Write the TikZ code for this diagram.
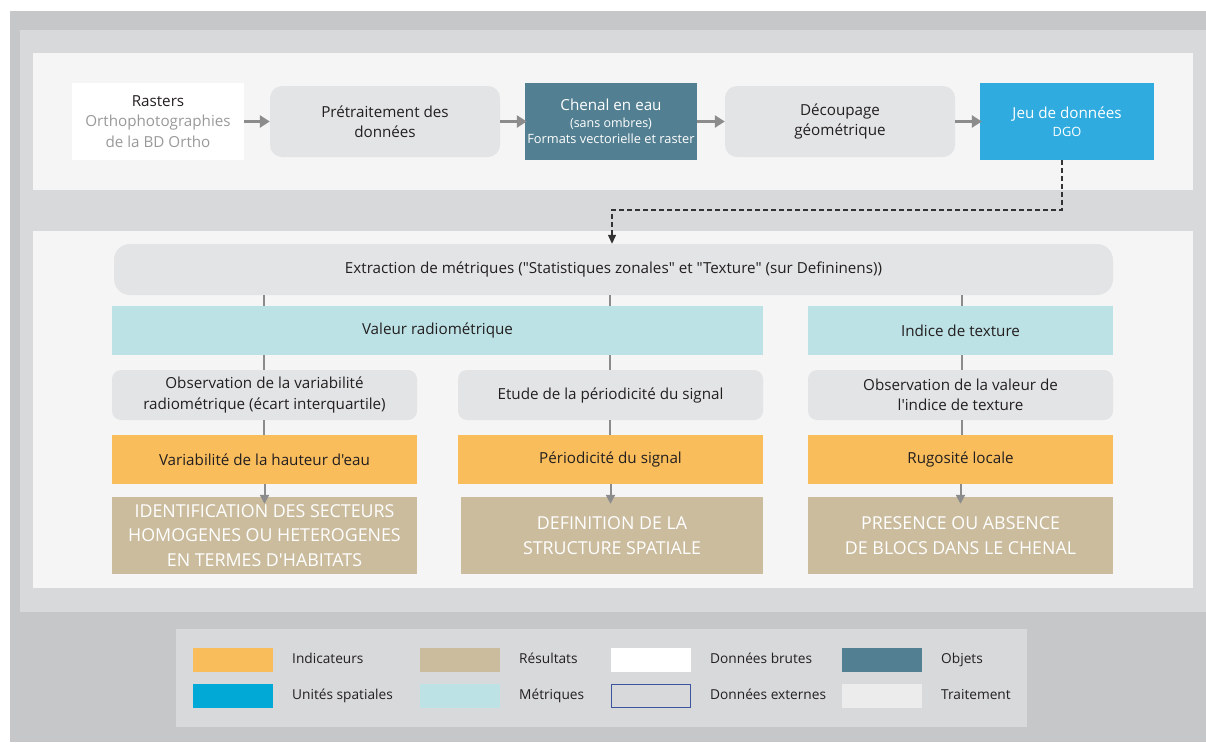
\documentclass[tikz,border=0pt]{standalone}
\usepackage{fontspec}
\setmainfont{Open Sans}[Ligatures=TeXOff]
\usetikzlibrary{arrows.meta}
\definecolor{outergray}{HTML}{C6C7C9}
\definecolor{midgray}{HTML}{D8D9DB}
\definecolor{panelc}{HTML}{F5F5F5}
\definecolor{procc}{HTML}{E3E4E5}
\definecolor{objc}{HTML}{527F91}
\definecolor{dgoc}{HTML}{2FABDF}
\definecolor{metc}{HTML}{BDE2E6}
\definecolor{orac}{HTML}{F9BD5C}
\definecolor{tanc}{HTML}{CBBC9E}
\definecolor{unitc}{HTML}{00A9D6}
\definecolor{extc}{HTML}{3D55A0}
\definecolor{traitc}{HTML}{ECECEC}
\definecolor{txtc}{HTML}{231F20}
\definecolor{txtgray}{HTML}{9A9A9A}
\definecolor{arrc}{HTML}{8C8C8C}
\tikzset{
  box/.style={draw=none, inner sep=2pt, align=center, text=txtc, font=\fontsize{15.2}{20.5}\selectfont},
  rawbox/.style={box, fill=white},
  procbox/.style={box, fill=procc, rounded corners=12pt},
  objbox/.style={box, fill=objc, text=white},
  dgobox/.style={box, fill=dgoc, text=white},
  metbox/.style={box, fill=metc},
  obsbox/.style={box, fill=procc, rounded corners=9pt},
  orabox/.style={box, fill=orac},
  tanbox/.style={box, fill=tanc, text=white, font=\fontsize{17.8}{24.5}\selectfont},
  bigarrow/.style={draw=arrc, line width=3.2pt, -{Triangle[length=10pt,width=12pt]}},
  smallarrow/.style={draw=arrc, line width=2pt, -{Triangle[length=9pt,width=9pt]}},
  tick/.style={draw=arrc, line width=1.6pt},
  dashlink/.style={draw=black!80, line width=1.3pt, dash pattern=on 5pt off 3pt, -{Triangle[length=9pt,width=8pt]}},
  swatch/.style={draw=none, minimum width=80pt, minimum height=24pt, inner sep=0pt},
  leglabel/.style={anchor=west, inner sep=0pt, text height=10pt, text depth=3pt, text=txtc, font=\fontsize{13.7}{16}\selectfont}
}
\begin{document}
\begin{tikzpicture}[x=1pt,y=-1pt]
\useasboundingbox (0,0) rectangle (1206,742);
\fill[white] (0,0) rectangle (1206,742);
\fill[outergray] (10,11) rectangle (1206,742);
\fill[midgray] (20,30) rectangle (1206,612);
\fill[panelc] (33,53) rectangle (1193,190);
\fill[panelc] (33,231) rectangle (1193,588);
\fill[midgray] (176,629) rectangle (1027,727);

% top row
\node[rawbox, minimum width=172pt, minimum height=77pt] (raster) at (158,121.5)
  {Rasters\\{\color{txtgray}Orthophotographies}\\{\color{txtgray}de la BD Ortho}};
\node[procbox, minimum width=230pt, minimum height=71pt] (pretr) at (385,121.5)
  {Prétraitement des\\données};
\node[objbox, minimum width=172pt, minimum height=77pt] (chenal) at (611,121.5)
  {Chenal en eau\\[-4pt]{\fontsize{12.5}{15}\selectfont (sans ombres)}\\[-4pt]{\fontsize{12.8}{16}\selectfont Formats vectorielle et raster}};
\node[procbox, minimum width=230pt, minimum height=71pt] (decoup) at (840,121.5)
  {Découpage\\géométrique};
\node[dgobox, minimum width=174pt, minimum height=77pt] (dgo) at (1067,121.5)
  {Jeu de données\\[-3pt]{\fontsize{12.8}{15}\selectfont DGO}};

\draw[bigarrow] (raster.east) -- (pretr.west);
\draw[bigarrow] (pretr.east) -- ([xshift=2pt]chenal.west);
\draw[bigarrow] (chenal.east) -- (decoup.west);
\draw[bigarrow] (decoup.east) -- ([xshift=2pt]dgo.west);

% extraction
\node[procbox, rounded corners=16pt, minimum width=999pt, minimum height=51pt] (extr) at (613.5,269.5)
  {Extraction de métriques ("Statistiques zonales" et "Texture" (sur Defininens))};
\coordinate (dA) at (1062,210);
\coordinate (dB) at (612,210);
\draw[dashlink] ([xshift=-5pt]dgo.south) -- (dA) -- (dB) -- (dB |- extr.north);

% metrics
\node[metbox, minimum width=651pt, minimum height=49pt] (valr) at (437.5,330.5) {Valeur radiométrique};
\node[metbox, minimum width=305pt, minimum height=49pt] (indt) at (960.5,330.5) {Indice de texture};

% observations
\node[obsbox, minimum width=305pt, minimum height=50pt] (obs1) at (264.5,395)
  {Observation de la variabilité\\radiométrique (écart interquartile)};
\node[obsbox, minimum width=305pt, minimum height=50pt] (obs2) at (610.5,395)
  {Etude de la périodicité du signal};
\node[obsbox, minimum width=305pt, minimum height=50pt] (obs3) at (960.5,395)
  {Observation de la valeur de\\l'indice de texture};

% indicators
\node[orabox, minimum width=305pt, minimum height=49pt] (ind1) at (264.5,459.5) {Variabilité de la hauteur d'eau};
\node[orabox, minimum width=305pt, minimum height=49pt] (ind2) at (610.5,459.5) {Périodicité du signal};
\node[orabox, minimum width=305pt, minimum height=49pt] (ind3) at (960.5,459.5) {Rugosité locale};

% results
\node[tanbox, minimum width=305pt, minimum height=77pt] (res1) at (264.5,535.5)
  {IDENTIFICATION DES SECTEURS\\HOMOGENES OU HETEROGENES\\EN TERMES D'HABITATS};
\node[tanbox, minimum width=302pt, minimum height=77pt] (res2) at (612,535.5)
  {DEFINITION DE LA\\STRUCTURE SPATIALE};
\node[tanbox, minimum width=305pt, minimum height=77pt] (res3) at (960.5,535.5)
  {PRESENCE OU ABSENCE\\DE BLOCS DANS LE CHENAL};

% ticks
\foreach \x/\a/\b in {264/extr/valr, 610/extr/valr, 962/extr/indt,
                      264/valr/obs1, 610/valr/obs2, 962/indt/obs3,
                      264/obs1/ind1, 610/obs2/ind2, 962/obs3/ind3}
  \draw[tick] (\x,0 |- \a.south) -- (\x,0 |- \b.north);
\foreach \i in {1,2,3}
  \draw[smallarrow] (ind\i.south) -- ([yshift=-7pt]res\i.north -| ind\i.south);

% legend
\node[swatch, fill=orac] (sw1) at (233,660) {};
\node[leglabel] (lb1) at (292,660) {Indicateurs};
\node[swatch, fill=tanc] (sw2) at (460,660) {};
\node[leglabel] (lb2) at (519,660) {Résultats};
\node[swatch, fill=white] (sw3) at (651,660) {};
\node[leglabel] (lb3) at (710,660) {Données brutes};
\node[swatch, fill=objc] (sw4) at (882,660) {};
\node[leglabel] (lb4) at (941,660) {Objets};
\node[swatch, fill=unitc] (sw5) at (233,696) {};
\node[leglabel] (lb5) at (292,696) {Unités spatiales};
\node[swatch, fill=metc] (sw6) at (460,696) {};
\node[leglabel] (lb6) at (519,696) {Métriques};
\node[swatch, fill=midgray, draw=extc, line width=1.2pt, minimum width=79pt, minimum height=23pt] (sw7) at (651,696) {};
\node[leglabel] (lb7) at (710,696) {Données externes};
\node[swatch, fill=traitc] (sw8) at (882,696) {};
\node[leglabel] (lb8) at (941,696) {Traitement};
\end{tikzpicture}
\end{document}
